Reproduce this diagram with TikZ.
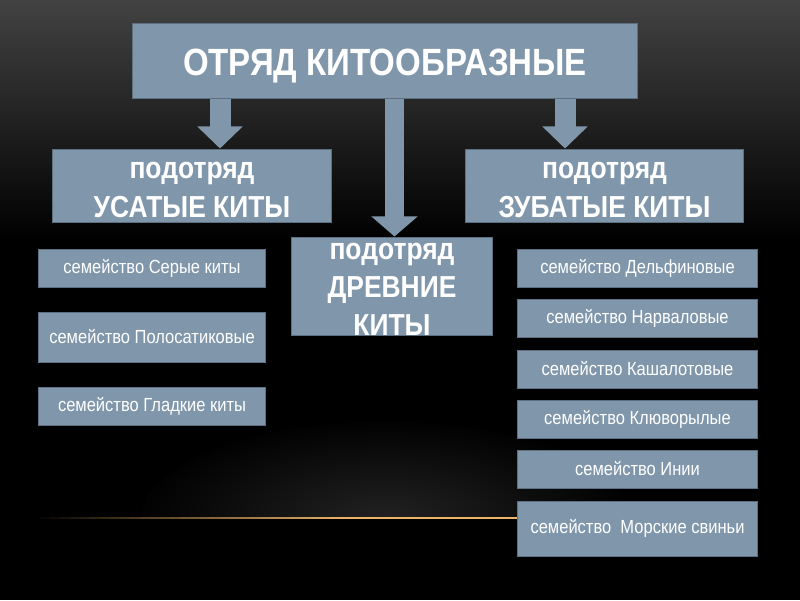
\documentclass[tikz,border=0pt]{standalone}
\usepackage{fontspec}
\setmainfont[FakeStretch=0.87]{Liberation Sans}
\usetikzlibrary{arrows.meta}
\definecolor{boxfill}{RGB}{128,150,171}
\definecolor{boxline}{RGB}{92,112,130}
\definecolor{glowline}{RGB}{235,180,105}

\begin{document}
\begin{tikzpicture}[
    x=0.025cm, y=-0.025cm,
    every node/.style={text=white, align=center, inner sep=0pt},
    box/.style={rectangle, fill=boxfill, draw=boxline, line width=0.7pt},
    ordbox/.style={box, minimum width=12.6cm, text height=1.3cm, text depth=0.575cm,
      font=\bfseries\fontsize{27}{30}\selectfont},
    subbox/.style={box, minimum width=6.95cm, text height=1.7cm, text depth=0.125cm,
      font=\bfseries\fontsize{21.6}{27.7}\selectfont},
    oldbox/.style={box, minimum width=5cm, text height=2.45cm, text depth=0pt,
      font=\bfseries\fontsize{21.6}{26.7}\selectfont},
    famL/.style={box, minimum width=5.65cm, minimum height=0.95cm,
      font=\fontsize{13.5}{16}\selectfont},
    famR/.style={famL, minimum width=5.975cm},
    blockarr/.style={draw=boxfill, line width=0.525cm,
      -{Triangle[width=1.1cm, length=0.55cm]}},
    midarr/.style={draw=boxfill, line width=0.475cm,
      -{Triangle[width=1.125cm, length=0.5cm]}}
  ]

    % background
    \fill[black] (0,0) rectangle (800,600);
    \shade[top color=black!74, bottom color=black] (0,0) rectangle (800,240);
    \begin{scope}
      \clip (0,300) rectangle (800,518);
      \foreach \k in {1,...,32}
        \fill[white, opacity=0.008] (385,518) ellipse ({(33-\k)*0.19cm} and {(33-\k)*0.075cm});
    \end{scope}
    % glowing line
    \foreach \i in {0,...,48} {
      \pgfmathsetmacro{\p}{min(100,3.2*\i)}
      \fill[glowline!\p!black] (30+10*\i,516.8) rectangle (40.5+10*\i,519.4);
    }

    % order
    \node[ordbox] (order) at (385,60.5) {ОТРЯД КИТООБРАЗНЫЕ};

    % suborders
    \node[subbox] (usat) at (192,185.5) {подотряд\\УСАТЫЕ КИТЫ};
    \node[subbox] (zub) at (604.5,185.5) {подотряд\\ЗУБАТЫЕ КИТЫ};
    \node[oldbox] (old) at (392,286) {подотряд\\ДРЕВНИЕ\\КИТЫ};

    \coordinate (la) at (220,0);
    \coordinate (ma) at (394.5,0);
    \coordinate (ra) at (565,0);

    \draw[blockarr] (order.south -| la) -- (usat.north -| la);
    \draw[blockarr] (order.south -| ra) -- (zub.north -| ra);
    \draw[midarr] (order.south -| ma) -- (old.north -| ma);

    % left families
    \node[famL] (grey) at (152,268) {семейство Серые киты};
    \node[famL, minimum height=1.25cm] (rorq) at (152,337) {семейство Полосатиковые};
    \node[famL] (right) at (152,406) {семейство Гладкие киты};

    % right families
    \node[famR] (delph) at (637.5,268) {семейство Дельфиновые};
    \node[famR] (narw) at (637.5,318) {семейство Нарваловые};
    \node[famR] (sperm) at (637.5,369) {семейство Кашалотовые};
    \node[famR] (beak) at (637.5,419) {семейство Клюворылые};
    \node[famR] (inia) at (637.5,469) {семейство Инии};
    \node[famR, minimum height=1.375cm] (porp) at (637.5,528.5) {семейство\ \ Морские свиньи};

  \end{tikzpicture}
\end{document}
